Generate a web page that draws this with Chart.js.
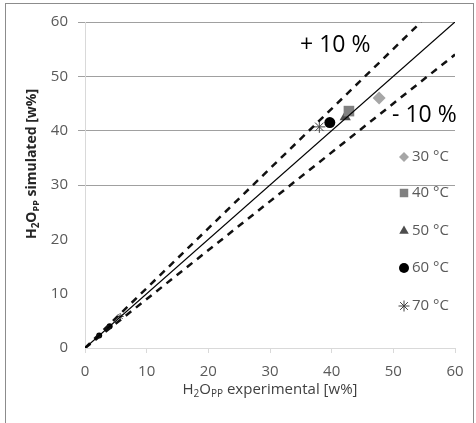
<!DOCTYPE html>
<html>
<head>
<meta charset="utf-8">
<script src="https://cdn.jsdelivr.net/npm/chart.js@4/dist/chart.umd.min.js"></script>
<style>
html, body { margin: 0; padding: 0; background: #fff; }
canvas { display: block; }
</style>
</head>
<body>
<canvas id="graph" width="476" height="423"></canvas>
<script>
// axis range / ticks
const AXIS_MIN = 0;
const AXIS_MAX = 60;
const AXIS_STEP = 10;

// series (experimental x, simulated y)
const seriesLabels = ['30 °C', '40 °C', '50 °C', '60 °C', '70 °C'];
const pts30 = [{x: 47.7, y: 46.0}];
const pts40 = [{x: 42.8, y: 43.6}];
const pts50 = [{x: 42.2, y: 42.5}];
const pts60 = [{x: 39.7, y: 41.5}, {x: 2.3, y: 2.3}, {x: 4.0, y: 4.0}];
const pts70 = [{x: 38.0, y: 40.7}, {x: 5.7, y: 5.8}];

// reference lines
const lineParity = [{x: 0, y: 0}, {x: 60, y: 60}];
const linePlus10 = [{x: 0, y: 0}, {x: 54.5, y: 60}];
const lineMinus10 = [{x: 0, y: 0}, {x: 60, y: 54}];

const FONT = "'Open Sans', 'DejaVu Sans', sans-serif";

let context = document.querySelector('#graph');

function smallRadius(big, small) {
    return c => (c.raw && c.raw.x < 10) ? small : big;
}

function drawRich(ctx, parts, cx, cy, rotate, weight, color) {
    ctx.save();
    ctx.translate(cx, cy);
    if (rotate) ctx.rotate(-Math.PI / 2);
    ctx.fillStyle = color;
    ctx.textBaseline = 'middle';
    ctx.textAlign = 'left';
    let total = 0;
    parts.forEach(p => {
        ctx.font = weight + ' ' + p.s + 'px ' + FONT;
        p.w = ctx.measureText(p.t).width;
        total += p.w;
    });
    let x = -total / 2;
    parts.forEach(p => {
        ctx.font = weight + ' ' + p.s + 'px ' + FONT;
        ctx.fillText(p.t, x, p.dy || 0);
        x += p.w;
    });
    ctx.restore();
}

const extrasPlugin = {
    id: 'extras',
    afterDraw(chart) {
        let ctx = chart.ctx;

        // outer frame
        ctx.save();
        ctx.strokeStyle = '#8c8c8c';
        ctx.lineWidth = 1;
        ctx.strokeRect(5.5, 3.5, 468, 430);
        ctx.restore();

        // axis titles with subscripts
        drawRich(ctx, [
            {t: 'H', s: 14}, {t: '2', s: 10, dy: 4}, {t: 'O', s: 14},
            {t: 'PP', s: 9, dy: 4}, {t: ' simulated [w%]', s: 14}
        ], 32, 164, true, 'bold', '#262626');
        drawRich(ctx, [
            {t: 'H', s: 15}, {t: '2', s: 10, dy: 4}, {t: 'O', s: 15},
            {t: 'PP', s: 10, dy: 4}, {t: ' experimental [w%]', s: 15}
        ], 270, 390, false, 'normal', '#404040');

        // +/- 10 % labels
        ctx.save();
        ctx.fillStyle = '#000';
        ctx.font = '23px ' + FONT;
        ctx.textBaseline = 'middle';
        ctx.textAlign = 'left';
        ctx.fillText('+ 10 %', 300, 45);
        ctx.fillText('- 10 %', 392, 115);
        ctx.restore();

        // legend
        let legendY = [157, 193, 231, 268, 306];
        chart.data.datasets.forEach(ds => {
            if (ds.legendIndex === undefined) return;
            let y = legendY[ds.legendIndex];
            ctx.save();
            ctx.fillStyle = ds.backgroundColor;
            ctx.strokeStyle = ds.borderColor;
            ctx.lineWidth = 1;
            Chart.helpers.drawPoint(ctx, {
                pointStyle: ds.pointStyle,
                radius: ds.legendRadius,
                rotation: 0,
                borderWidth: ds.pointStyle === 'star' ? 1 : 0
            }, 404, y);
            ctx.fillStyle = '#595959';
            ctx.font = '15px ' + FONT;
            ctx.textBaseline = 'middle';
            ctx.textAlign = 'left';
            ctx.fillText(ds.label, 412, y);
            ctx.restore();
        });
    }
};

let graph = new Chart(context, {
    type: 'scatter',
    data: {
        datasets: [
            {
                label: 'parity', data: lineParity, showLine: true,
                borderColor: '#000', borderWidth: 1.3, pointRadius: 0
            },
            {
                label: '+10', data: linePlus10, showLine: true,
                borderColor: '#111', borderWidth: 2.5, borderDash: [7, 6], pointRadius: 0
            },
            {
                label: '-10', data: lineMinus10, showLine: true,
                borderColor: '#111', borderWidth: 2.5, borderDash: [7, 6], pointRadius: 0
            },
            {
                label: seriesLabels[0], data: pts30, legendIndex: 0, legendRadius: 5,
                pointStyle: 'rectRot', pointRadius: smallRadius(6.5, 3),
                backgroundColor: '#a6a6a6', borderColor: '#a6a6a6', borderWidth: 0
            },
            {
                label: seriesLabels[1], data: pts40, legendIndex: 1, legendRadius: 6,
                pointStyle: 'rect', pointRadius: smallRadius(7.5, 3),
                backgroundColor: '#808080', borderColor: '#808080', borderWidth: 0
            },
            {
                label: seriesLabels[2], data: pts50, legendIndex: 2, legendRadius: 5.5,
                pointStyle: 'triangle', pointRadius: smallRadius(6.5, 3),
                backgroundColor: '#4d4d4d', borderColor: '#4d4d4d', borderWidth: 0
            },
            {
                label: seriesLabels[3], data: pts60, legendIndex: 3, legendRadius: 5,
                pointStyle: 'circle', pointRadius: smallRadius(5.5, 3),
                backgroundColor: '#000', borderColor: '#000', borderWidth: 0
            },
            {
                label: seriesLabels[4], data: pts70, legendIndex: 4, legendRadius: 5.5,
                pointStyle: 'star', pointRadius: smallRadius(6, 3.5),
                backgroundColor: '#404040', borderColor: '#404040', borderWidth: 1
            }
        ]
    },
    options: {
        responsive: false,
        animation: false,
        layout: { padding: { left: 0, top: 22, right: 21, bottom: 0 } },
        plugins: {
            legend: { display: false },
            tooltip: { enabled: false }
        },
        scales: {
            x: {
                type: 'linear',
                min: AXIS_MIN,
                max: AXIS_MAX,
                ticks: {
                    stepSize: AXIS_STEP,
                    color: '#595959',
                    font: { family: FONT, size: 15 },
                    padding: 10
                },
                grid: {
                    drawOnChartArea: false,
                    color: '#d9d9d9',
                    tickLength: 5
                },
                border: { color: '#d9d9d9' },
                afterFit(scale) { scale.height = 75; }
            },
            y: {
                type: 'linear',
                min: AXIS_MIN,
                max: AXIS_MAX,
                ticks: {
                    stepSize: AXIS_STEP,
                    color: '#595959',
                    font: { family: FONT, size: 15 },
                    padding: 10
                },
                grid: {
                    color: c => (c.tick && c.tick.value >= 30) ? '#a0a0a0' : 'rgba(0,0,0,0)',
                    tickLength: 7
                },
                border: { color: '#d9d9d9' },
                afterFit(scale) { scale.width = 85; }
            }
        }
    },
    plugins: [extrasPlugin]
});
</script>
</body>
</html>
